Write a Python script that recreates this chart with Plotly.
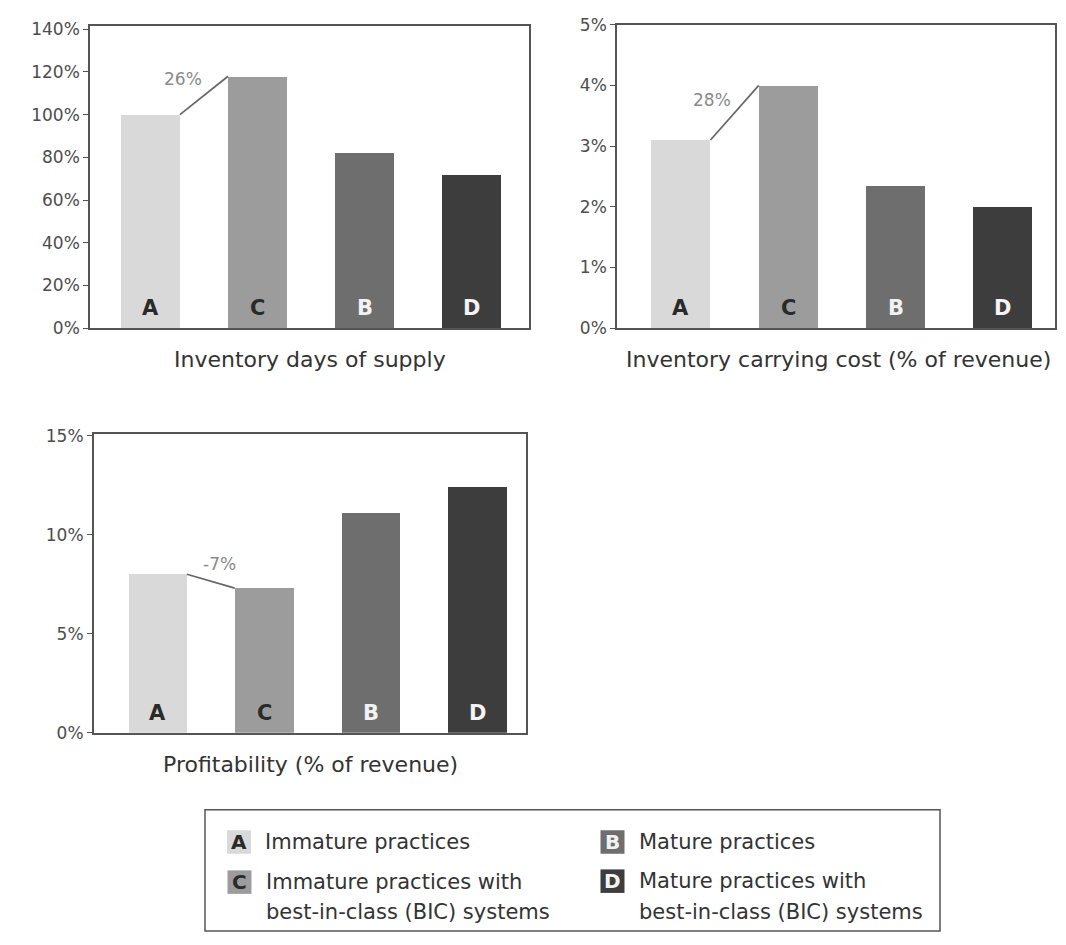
import plotly.graph_objects as go

W, H = 1066, 945
FONT = "DejaVu Sans"

# Bar order used in every panel
groups = ["A", "C", "B", "D"]

# Panel values (percent)
days_of_supply = [100, 118, 82, 72]
carrying_cost = [3.1, 4.0, 2.35, 2.0]
profitability = [8.0, 7.3, 11.1, 12.4]

# Change from A to C written next to the connector line
change_labels = ["26%", "28%", "-7%"]

chart_titles = [
    "Inventory days of supply",
    "Inventory carrying cost (% of revenue)",
    "Profitability (% of revenue)",
]

y_ticks = [
    [0, 20, 40, 60, 80, 100, 120, 140],
    [0, 1, 2, 3, 4, 5],
    [0, 5, 10, 15],
]

legend_letters = ["A", "B", "C", "D"]
legend_labels = {
    "A": ["Immature practices"],
    "B": ["Mature practices"],
    "C": ["Immature practices with", "best-in-class (BIC) systems"],
    "D": ["Mature practices with", "best-in-class (BIC) systems"],
}

bar_colors = {"A": "#d9d9d9", "C": "#9c9c9c", "B": "#6e6e6e", "D": "#3d3d3d"}
letter_colors = {"A": "#2a2a2a", "C": "#2a2a2a", "B": "#f2f2f2", "D": "#f4f4f4"}


def px(xp):
    return xp / W


def py(yp):
    return 1 - yp / H


panels = [
    dict(values=days_of_supply, xdom=(90, 529), ydom=(16, 325),
         xrange=(-0.565, 3.537), yrange=(0, 141.7),
         change_pos=(0.30, 116.5), title_pos=(309.5, 357)),
    dict(values=carrying_cost, xdom=(617, 1055), ydom=(15, 325),
         xrange=(-0.596, 3.485), yrange=(0, 5),
         change_pos=(0.29, 3.76), title_pos=(838, 357)),
    dict(values=profitability, xdom=(93.7, 526), ydom=(433.3, 738.3),
         xrange=(-0.6, 3.46), yrange=(0, 15.08),
         change_pos=(0.58, 8.5), title_pos=(310, 771)),
]

BAR_W = 0.55
fig = go.Figure()
annotations = []
shapes = []
layout_axes = {}

for k, p in enumerate(panels):
    n = "" if k == 0 else str(k + 1)
    xa, ya = "x" + n, "y" + n
    idx = list(range(len(groups)))
    vals = p["values"]

    fig.add_trace(go.Bar(
        x=idx, y=vals, width=BAR_W, xaxis=xa, yaxis=ya,
        marker=dict(color=[bar_colors[g] for g in groups], line=dict(width=0)),
        showlegend=False, hoverinfo="skip",
    ))
    # connector from the top-right of A to the top-left of C
    fig.add_trace(go.Scatter(
        x=[idx[0] + BAR_W / 2, idx[1] - BAR_W / 2], y=[vals[0], vals[1]],
        mode="lines", line=dict(color="#666666", width=1.7),
        xaxis=xa, yaxis=ya, showlegend=False, hoverinfo="skip",
    ))

    layout_axes["xaxis" + n] = dict(
        domain=[px(p["xdom"][0]), px(p["xdom"][1])], range=list(p["xrange"]),
        showticklabels=False, ticks="", showgrid=False, zeroline=False,
        showline=True, mirror=True, linecolor="#555555", linewidth=1.5,
        anchor=ya, fixedrange=True,
    )
    ticks = y_ticks[k]
    layout_axes["yaxis" + n] = dict(
        domain=[py(p["ydom"][1]), py(p["ydom"][0])], range=list(p["yrange"]),
        tickvals=ticks, ticktext=[f"{t}%" for t in ticks],
        ticks="outside", ticklen=5, tickcolor="#555555", tickwidth=1.2,
        tickfont=dict(family=FONT, size=17, color="#4d4d4d"),
        showgrid=False, zeroline=False,
        showline=True, mirror=True, linecolor="#555555", linewidth=1.5,
        anchor=xa, fixedrange=True,
    )

    # letters at the foot of each bar
    for i, g in enumerate(groups):
        annotations.append(dict(
            x=idx[i], y=0, xref=xa, yref=ya, text=f"<b>{g}</b>",
            showarrow=False, yanchor="middle", yshift=20,
            font=dict(family=FONT, size=21, color=letter_colors[g]),
        ))

    # change label
    annotations.append(dict(
        x=p["change_pos"][0], y=p["change_pos"][1], xref=xa, yref=ya,
        text=change_labels[k], showarrow=False,
        font=dict(family=FONT, size=17, color="#8a8a8a"),
    ))

    # panel caption under the axis
    annotations.append(dict(
        x=px(p["title_pos"][0]), y=py(p["title_pos"][1]), xref="paper", yref="paper",
        text=chart_titles[k], showarrow=False, xanchor="center", yanchor="middle",
        font=dict(family=FONT, size=22, color="#333333"),
    ))

# Key box
shapes.append(dict(
    type="rect", xref="paper", yref="paper",
    x0=px(205), x1=px(940), y0=py(941), y1=py(817),
    line=dict(color="#555555", width=1.5), fillcolor="rgba(0,0,0,0)",
))

key_slots = {
    "A": (239, 850),
    "B": (612.5, 850),
    "C": (239.5, 891),
    "D": (612.5, 890),
}
for g in legend_letters:
    cx, cy = key_slots[g]
    shapes.append(dict(
        type="rect", xref="paper", yref="paper",
        x0=px(cx - 12), x1=px(cx + 12), y0=py(cy + 12), y1=py(cy - 12),
        line=dict(width=0), fillcolor=bar_colors[g],
    ))
    annotations.append(dict(
        x=px(cx), y=py(cy), xref="paper", yref="paper", text=f"<b>{g}</b>",
        showarrow=False, xanchor="center", yanchor="middle",
        font=dict(family=FONT, size=20, color=letter_colors[g]),
    ))
    for j, line in enumerate(legend_labels[g]):
        annotations.append(dict(
            x=px(cx + 24), y=py(cy + j * 31), xref="paper", yref="paper",
            text=line, showarrow=False, xanchor="left", yanchor="middle",
            font=dict(family=FONT, size=21, color="#333333"),
        ))

fig.update_layout(
    width=W, height=H,
    margin=dict(l=0, r=0, t=0, b=0),
    paper_bgcolor="white", plot_bgcolor="white",
    font=dict(family=FONT),
    bargap=0, showlegend=False,
    annotations=annotations, shapes=shapes,
    **layout_axes,
)

fig.write_html("out.html", config={"displayModeBar": False})
